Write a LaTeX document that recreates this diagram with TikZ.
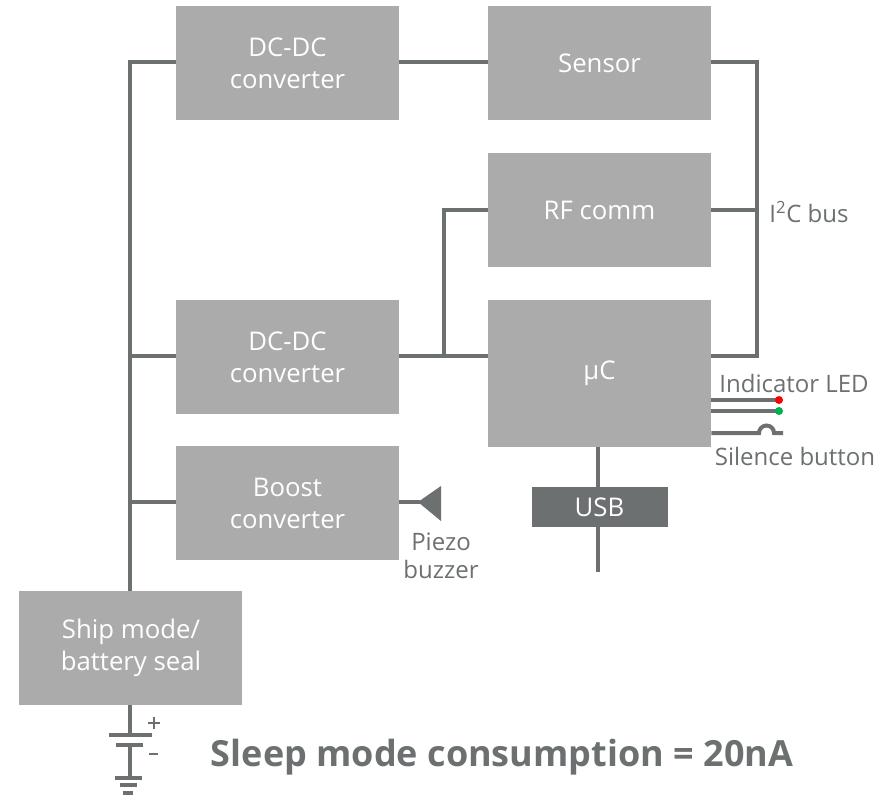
\documentclass[tikz,border=0pt]{standalone}
\usepackage{fontspec}
\setmainfont{Open Sans}
\usepackage{tikz}
\usetikzlibrary{positioning}

\definecolor{boxgray}{HTML}{ABABAB}
\definecolor{wiregray}{HTML}{6C7070}
\definecolor{ledred}{HTML}{FF0000}
\definecolor{ledgreen}{HTML}{00B050}

\tikzset{
	block/.style={fill=boxgray, minimum width=167.25pt, minimum height=85.5pt, inner sep=0pt, align=center, text=white, font=\fontsize{19.3}{24}\selectfont},
	usbblock/.style={fill=wiregray, minimum width=102pt, minimum height=30pt, inner sep=0pt, text=white, font=\fontsize{19.3}{24}\selectfont},
	wire/.style={draw=wiregray, line width=3pt},
	thinwire/.style={draw=wiregray, line width=2.8pt},
	caption/.style={text=wiregray, inner sep=0pt, align=center, font=\fontsize{18}{21}\selectfont},
	led/.style={circle, inner sep=0pt, minimum size=6pt}
}

\begin{document}
\begin{tikzpicture}[x=0.75pt, y=-0.75pt, node distance=234pt, on grid]
	\useasboundingbox (0,0) rectangle (887,795);
	\node[block] (dc_top) at (287.5,63.5) {DC-DC\\converter};
	\node[block] (sensor) [right=of dc_top] {Sensor};
	\node[block] (rf) [below=110pt of sensor] {RF comm};
	\node[block, minimum height=110.25pt] (uc) [below=122.6pt of rf] {µC};
	\node[block] (dc_mid) [left=of uc, yshift=12.4pt] {DC-DC\\converter};
	\node[block] (boost) [below=109.5pt of dc_mid] {Boost\\converter};
	\node[block] (ship) [below left=108.75pt and 117.4pt of boost] {Ship mode/\\battery seal};

	\coordinate (bus_top) at (757,62);
	\coordinate (bus_rf) at (757,210);
	\coordinate (bus_uc) at (757,355.5);
	\coordinate (rf_tap) at (444,355.5);
	\coordinate (usb_end) at (598,572);
	\coordinate (piezo_tip) at (420,502);
	\coordinate (led_a) at (779,400);
	\coordinate (led_b) at (779,411);

	% supply rail
	\draw[wire] (ship.north -| 130,0) -- (130,62) -- (dc_top.west |- 0,62);
	\draw[wire] (130,356) -- (dc_mid.west |- 0,356);
	\draw[wire] (130,502) -- (boost.west |- 0,502);

	% signal lines
	\draw[wire] (dc_top.east |- 0,62) -- (sensor.west |- 0,62);
	\draw[wire] (dc_mid.east |- rf_tap) -- (uc.west |- rf_tap);
	\draw[wire] (rf_tap) -- (444,210) -- (rf.west |- 0,210);
	\draw[wire] (sensor.east |- bus_top) -- (bus_top) -- (bus_uc) -- (uc.east |- bus_uc);
	\draw[wire] (rf.east |- bus_rf) -- (bus_rf);
	\draw[wire] (598,447) -- (usb_end);
	\node[usbblock] (usb) [below=100.1pt of uc] {USB};
	\draw[wire] (boost.east |- piezo_tip) -- (piezo_tip);
	\fill[wiregray] (418,502) -- (441,486) -- (441,521) -- cycle;

	% led and button
	\draw[wire] (uc.east |- led_a) -- (led_a);
	\draw[wire] (uc.east |- led_b) -- (led_b);
	\node[led, fill=ledred] at (led_a) {};
	\node[led, fill=ledgreen] at (led_b) {};
	\draw[wire] (uc.east |- 0,433) -- (759,433) arc (180:360:7.5) -- (783,433);

	% battery
	\draw[thinwire] (130,705) -- (130,735);
	\draw[thinwire] (109,735) -- (152,735);
	\draw[thinwire] (116,745) -- (143,745);
	\draw[thinwire] (130,745) -- (130,778);
	\draw[thinwire] (115,778) -- (142,778);
	\draw[thinwire] (120,785) -- (137,785);
	\draw[thinwire] (123,793) -- (133,793);
	\draw[wiregray, line width=1.4pt] (148,723) -- (160,723) (154,717) -- (154,729);
	\draw[wiregray, line width=1.4pt] (149,754) -- (158,754);

	% labels
	\node[caption] (i2c) at (809,212) {I\textsuperscript{2}C bus};
	\node[caption] (led_label) at (794,383) {Indicator LED};
	\node[caption] (button_label) at (795,456) {Silence button};
	\node[caption] (piezo_label) at (441,556) {Piezo\\buzzer};
	\node[text=wiregray, inner sep=0pt, font=\fontsize{27}{32}\bfseries\selectfont] (sleep_label) at (502,757) {Sleep mode consumption = 20nA};
\end{tikzpicture}
\end{document}
